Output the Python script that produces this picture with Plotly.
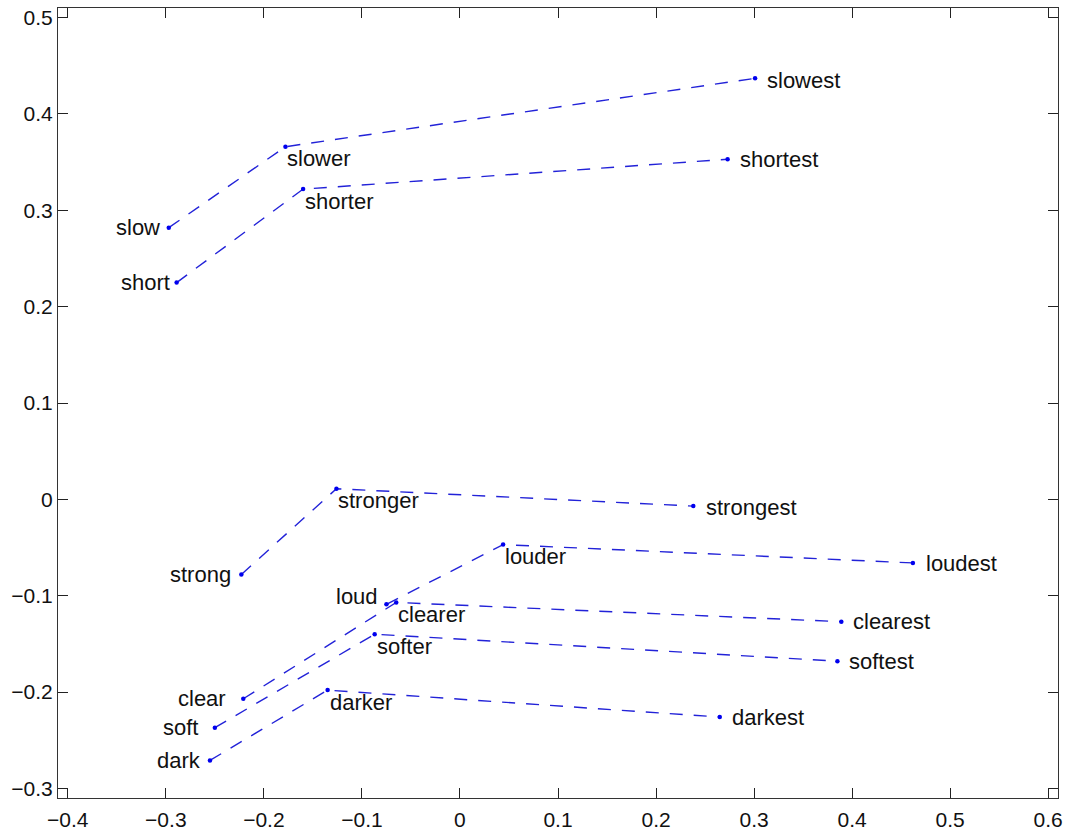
import plotly.graph_objects as go

# Word-embedding positions for adjective / comparative / superlative triples
slow_words = ["slow", "slower", "slowest"]
slow_x = [-0.297, -0.178, 0.301]
slow_y = [0.282, 0.366, 0.437]

short_words = ["short", "shorter", "shortest"]
short_x = [-0.289, -0.160, 0.273]
short_y = [0.225, 0.322, 0.353]

strong_words = ["strong", "stronger", "strongest"]
strong_x = [-0.223, -0.126, 0.238]
strong_y = [-0.078, 0.011, -0.007]

loud_words = ["loud", "louder", "loudest"]
loud_x = [-0.075, 0.044, 0.462]
loud_y = [-0.109, -0.047, -0.066]

clear_words = ["clear", "clearer", "clearest"]
clear_x = [-0.221, -0.065, 0.389]
clear_y = [-0.207, -0.107, -0.127]

soft_words = ["soft", "softer", "softest"]
soft_x = [-0.250, -0.087, 0.385]
soft_y = [-0.237, -0.140, -0.168]

dark_words = ["dark", "darker", "darkest"]
dark_x = [-0.255, -0.135, 0.265]
dark_y = [-0.271, -0.198, -0.226]

x_ticks = [-0.4, -0.3, -0.2, -0.1, 0, 0.1, 0.2, 0.3, 0.4, 0.5, 0.6]
y_ticks = [-0.3, -0.2, -0.1, 0, 0.1, 0.2, 0.3, 0.4, 0.5]

families = [
    (slow_words, slow_x, slow_y),
    (short_words, short_x, short_y),
    (strong_words, strong_x, strong_y),
    (loud_words, loud_x, loud_y),
    (clear_words, clear_x, clear_y),
    (soft_words, soft_x, soft_y),
    (dark_words, dark_x, dark_y),
]

# Label placement: (anchor side, x offset px, y offset px)
placement = {
    "slow": ("right", -7, 0), "slower": ("left", 0, -12), "slowest": ("left", 10, -2),
    "short": ("right", -5, 0), "shorter": ("left", 0, -12), "shortest": ("left", 10, 0),
    "strong": ("right", -8, 0), "stronger": ("left", 0, -12), "strongest": ("left", 11, -1),
    "loud": ("right", -6, 8), "louder": ("left", 0, -12), "loudest": ("left", 11, -1),
    "clear": ("right", -15, 0), "clearer": ("left", 0, -12), "clearest": ("left", 10, 0),
    "soft": ("right", -15, 0), "softer": ("left", 0, -12), "softest": ("left", 10, 0),
    "dark": ("right", -7, 0), "darker": ("left", 0, -12), "darkest": ("left", 10, 0),
}

LINE_BLUE = "#2222d8"
FONT = "Liberation Sans, Arial, Helvetica, sans-serif"


def tick_text(v):
    return "\u2212" + str(abs(v)) if v < 0 else str(v)


fig = go.Figure()
for words, xs, ys in families:
    fig.add_trace(go.Scatter(
        x=xs, y=ys, mode="lines+markers",
        line=dict(color=LINE_BLUE, width=1.4, dash="13px,11px"),
        marker=dict(color="#0000ee", size=4.5),
        hoverinfo="text", text=words, showlegend=False,
    ))
    for w, xv, yv in zip(words, xs, ys):
        side, dx, dy = placement[w]
        fig.add_annotation(
            x=xv, y=yv, text=w, showarrow=False,
            xanchor=side, yanchor="middle", xshift=dx, yshift=dy,
            font=dict(family=FONT, size=22, color="#111111"),
        )

axis_common = dict(
    showgrid=False, zeroline=False, showline=True, mirror="allticks",
    linecolor="#333333", linewidth=1.2, ticks="inside", ticklen=10,
    tickwidth=1, tickcolor="#222222", automargin=False,
    tickfont=dict(family=FONT, size=21, color="#111111"),
)

fig.update_xaxes(range=[-0.41, 0.61], tickvals=x_ticks,
                 ticktext=[tick_text(v) for v in x_ticks],
                 ticklabelstandoff=3, **axis_common)
fig.update_yaxes(range=[-0.31, 0.51], tickvals=y_ticks,
                 ticktext=[tick_text(v) for v in y_ticks],
                 **axis_common)

fig.update_layout(
    width=1070, height=832,
    margin=dict(l=58, r=12, t=8, b=34),
    paper_bgcolor="white", plot_bgcolor="white",
)

fig.write_html("out.html")
